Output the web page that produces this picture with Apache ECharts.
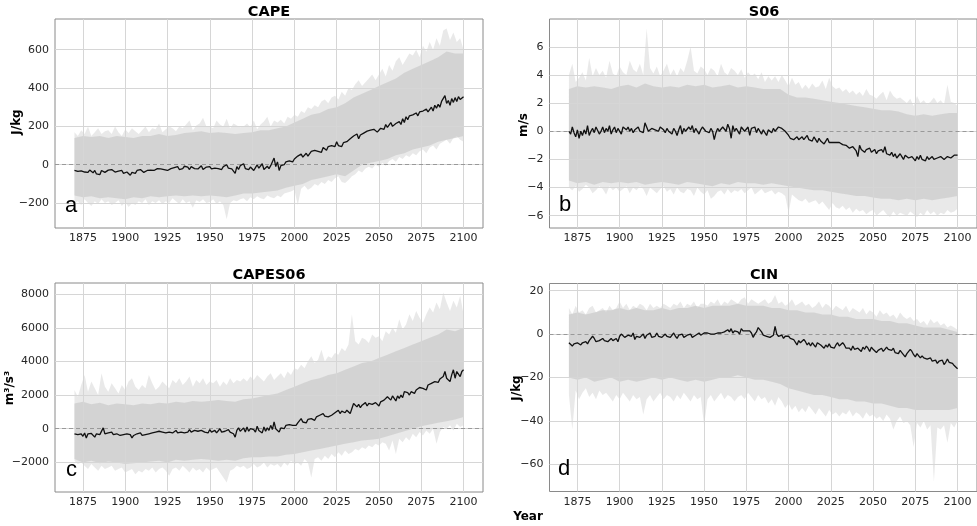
<!DOCTYPE html>
<html>
<head>
<meta charset="utf-8">
<script src="https://cdn.jsdelivr.net/npm/echarts@6/dist/echarts.min.js"></script>
<style>
  html, body { margin: 0; padding: 0; background: #fff; }
  #chart { width: 977px; height: 526px; }
</style>
</head>
<body>
<div id="chart"></div>
<script>
// ---- data ----
// yearly ensemble means, 1870..2100
const capeMean = [
  -30,-25,-35,-28,-32,-30,-38,-33,-40,-28,
  -35,-42,-30,-48,-38,-52,-30,-25,-40,-35,
  -28,-32,-25,-30,-38,-28,-33,-40,-30,-45,
  -35,-38,-42,-55,-40,-35,-45,-30,-38,-25,
  -32,-40,-35,-30,-38,-28,-22,-30,-25,-20,
  -28,-22,-30,-25,-18,-30,-38,-20,-25,-15,
  -22,-10,-25,-15,-20,-8,-18,-12,-25,-10,
  -15,-20,-10,-22,-18,-5,-25,-15,-12,-20,
  -10,-22,-15,-18,-8,-20,-12,-25,-10,-15,
  0,-18,-10,-22,-15,-45,-10,-25,-5,-15,
  5,-20,-10,-25,-12,-5,-30,-15,0,-18,
  -10,5,-25,-15,-8,-20,-5,0,35,-10,
  15,-30,-5,5,0,15,10,20,25,15,
  30,25,45,35,55,40,50,60,45,55,
  70,60,75,85,70,80,65,90,85,75,
  95,85,100,110,95,120,100,110,95,115,
  105,120,110,135,125,150,140,160,135,155,
  150,165,160,175,165,180,170,185,175,170,
  180,190,200,185,210,195,205,220,200,190,
  215,205,225,210,240,220,250,235,255,245,
  260,250,270,255,275,265,280,270,290,275,
  285,300,280,310,295,315,300,330,320,360,
  320,335,310,345,325,350,330,355,340,350,
  355
];
const s06Mean = [
  0,-0.2,0.3,-0.1,-0.4,0.1,-0.5,0,-0.3,0.1,
  -0.2,0.4,-0.3,0,0.2,-0.1,0.3,0.2,-0.2,0,
  0.3,-0.1,0.2,0,0.4,-0.2,0.1,0.3,-0.1,0.2,
  0.1,-0.2,0.3,0.2,0.1,0.3,0,0.2,-0.1,0.1,
  0.2,0.3,0,0.1,-0.1,0.6,0.5,0,0.1,0.2,
  0.3,0.1,0.2,0,0.3,0.2,0.1,-0.1,0.2,0,
  0.1,-0.2,0.2,0,-0.3,0.1,0.4,-0.2,0.2,0,
  -0.1,0.3,0.1,0.4,-0.1,0.2,0,-0.2,0.1,0.3,
  0.4,0,0.1,-0.1,0.2,0,-0.6,-0.1,0.2,0,
  -0.1,0.3,0.2,0,0.5,0.2,-0.5,0.4,0,0.2,
  0.1,-0.2,0.3,0.4,0,-0.1,0.3,-0.3,0.2,0.1,
  0.3,-0.1,0.2,0,-0.2,0.1,0.2,-0.3,0.1,0,
  -0.1,0.2,0,0.1,0.3,0.35,0.2,0.1,0,-0.1,
  -0.3,-0.5,-0.4,-0.6,-0.5,-0.4,-0.6,-0.5,-0.4,-0.6,
  -0.5,-0.3,-0.6,-0.5,-0.7,-0.4,-0.6,-0.8,-0.5,-0.7,
  -0.6,-0.9,-0.7,-0.5,-0.8,-0.7,-0.8,-0.8,-0.8,-0.85,
  -0.8,-0.9,-0.95,-0.9,-1.0,-1.1,-1.2,-1.1,-1.1,-1.2,
  -1.4,-1.8,-1.0,-1.3,-1.2,-1.5,-1.3,-1.4,-1.2,-1.5,
  -1.4,-1.3,-1.6,-1.4,-1.5,-1.3,-1.5,-1.1,-1.6,-1.5,
  -1.7,-1.5,-1.8,-1.6,-1.9,-2.0,-1.6,-1.8,-2.0,-1.7,
  -1.8,-1.9,-2.0,-1.8,-1.9,-2.1,-1.8,-2.0,-1.7,-2.0,
  -1.9,-2.1,-1.8,-2.0,-1.9,-1.8,-2.0,-2.0,-1.9,-2.0,
  -1.8,-1.9,-2.0,-1.9,-1.8,-1.7,-1.9,-1.8,-1.7,-1.75,
  -1.7
];
const capes06Mean = [
  -300,-250,-350,-320,-300,-450,-250,-550,-300,-400,
  -280,-350,-500,-300,-400,-350,-250,50,-300,-350,
  -250,-300,-200,-350,-280,-300,-250,-400,-300,-350,
  -450,-300,-400,-350,-550,-400,-450,-300,-350,-250,
  -400,-300,-350,-250,-300,-400,-250,-350,-200,-300,
  -150,-250,-200,-300,-250,-350,-200,-100,-250,-200,
  -100,-250,-150,-200,-100,-250,-150,-200,-50,-200,
  -150,-100,-200,-150,-250,-100,-150,-200,-100,-250,
  -50,-200,-150,-100,-250,-150,0,-200,-100,-150,
  -100,-50,-200,-150,-300,-500,-100,50,-150,-50,
  50,-200,100,-150,0,-100,-50,-200,150,-100,
  0,-250,100,-150,50,-100,200,-50,400,0,
  100,-200,50,150,0,200,100,250,150,200,
  250,200,350,300,600,400,450,350,550,500,
  600,550,500,700,650,800,700,900,750,850,
  700,600,800,900,950,1000,1100,900,1050,1000,
  950,1100,1000,900,1200,1500,1450,1300,1450,1250,
  1400,1300,1550,1350,1500,1600,1450,1400,1550,1500,
  1350,1600,1500,1700,1800,1900,2000,1700,1950,1800,
  1650,1950,1800,2000,1850,2200,2100,2150,2000,2200,
  2250,2100,2300,2200,2450,2350,2400,2500,2300,2600,
  2550,2700,2600,2800,2900,2750,2950,3000,3100,3400,
  3000,3100,2800,3200,3500,3000,3400,3300,3100,3400,
  3500
];
const cinMean = [
  -4,-4.5,-5.5,-4.5,-5,-4,-4.5,-5,-4,-4.5,
  -3.5,-4.5,-3,-2.5,-1,-2,-3.5,-4,-3,-2.5,
  -2,-3,-2.5,-3.5,-3,-2,-3,-2.5,-2,-3.5,
  -1,0,-0.5,-1.5,-2,-0.5,0,-1,0.5,-2.5,
  -1,-0.5,-1.5,-1,0,-2,-0.5,-1,0.5,-1.5,
  -2,-1,0.5,-1,-0.5,-1.5,-2,0,-1,-0.5,
  -1.5,-1,0.5,-1,-2,-0.5,-1,0,-1.5,-1,
  -0.5,-1,0,-1.5,-2,-0.5,0,0.5,-0.5,0,
  0.5,0,0.5,1,0,0.5,0,-0.5,0.5,1,
  0.5,0,1,1.5,2,1,2.5,0.5,1.5,2,
  1,0,2.5,1.5,1,1.5,1,1.5,0.5,-1.5,
  0,1,3,3.5,1,-0.5,0,-1,-1,-1.5,
  -1,-0.5,3.5,0,-1,-1.5,-0.5,-2,-1,-0.5,
  -1,-2,-1.5,-2.5,-3,-5,-3,-4,-3.5,-2.5,
  -3.5,-5,-4,-5.5,-4,-4.5,-6,-4,-3.5,-5,
  -5.5,-6.5,-5,-6,-4.5,-6,-5.5,-6.5,-5,-4,
  -5.5,-6,-4,-5,-6.5,-6,-6.5,-7.5,-5.5,-7,
  -7.5,-6.5,-7,-8,-6,-7,-5.5,-6.5,-8,-6,
  -7,-6.5,-8.5,-7.5,-8,-6.5,-8,-7,-6,-7,
  -6.5,-7.5,-6.5,-8.5,-8,-9,-7.5,-8.5,-9,-10.5,
  -9,-9.5,-7,-8,-9.5,-10.5,-9,-10,-11,-10,
  -11,-10.5,-11.5,-12,-11,-12.5,-13,-12,-13.5,-12.5,
  -13,-12,-14,-13,-11.5,-13,-12.5,-13.5,-14.5,-15,
  -16
];

// dense core of the ensemble spread, every 5 years 1870..2100
const capeCoreLo = [-160,-170,-165,-175,-170,-175,-180,-170,-175,-165,-170,-165,-160,-165,-160,-165,-160,-165,-170,-160,-150,-150,-145,-140,-135,-120,-110,-100,-80,-70,-60,-50,-60,-30,0,10,20,30,50,60,80,90,100,120,130,140,150];
const capeCoreHi = [140,150,145,150,140,150,145,140,150,150,160,150,155,165,170,175,165,170,165,160,165,170,180,180,190,200,220,240,260,270,290,300,320,350,370,390,410,430,450,480,500,520,540,560,590,580,580];
const s06CoreLo = [-3.5,-3.7,-3.6,-3.8,-3.6,-3.7,-3.6,-3.7,-3.6,-3.8,-3.7,-3.6,-3.7,-3.8,-3.6,-3.7,-3.8,-3.9,-3.7,-3.8,-3.6,-3.7,-3.7,-3.8,-3.7,-3.8,-3.9,-4.0,-4.1,-4.2,-4.2,-4.3,-4.4,-4.5,-4.6,-4.6,-4.7,-4.8,-4.8,-4.9,-4.8,-4.9,-4.8,-4.9,-4.8,-4.7,-4.6];
const s06CoreHi = [3.0,3.2,3.1,3.2,3.1,3.0,3.2,3.3,3.1,3.4,3.2,3.1,3.2,3.1,3.3,3.2,3.3,3.1,3.2,3.3,3.1,3.2,3.1,3.0,3.0,3.0,2.6,2.4,2.4,2.3,2.2,2.1,2.0,1.9,1.8,1.7,1.6,1.5,1.5,1.4,1.2,1.1,1.2,1.1,1.2,1.3,1.3];
const capes06CoreLo = [-1800,-2000,-1900,-2050,-1950,-2000,-2100,-2050,-2000,-1950,-1900,-2000,-1850,-1900,-1850,-1800,-1850,-1900,-1850,-1900,-1750,-1700,-1700,-1650,-1650,-1550,-1500,-1400,-1300,-1200,-1100,-1000,-900,-800,-700,-650,-600,-450,-300,-150,0,150,250,350,450,550,700];
const capes06CoreHi = [1500,1600,1450,1550,1400,1500,1450,1400,1500,1450,1550,1500,1600,1550,1650,1600,1650,1700,1650,1600,1750,1800,1900,2000,2100,2300,2500,2700,2900,3000,3200,3300,3500,3700,3900,4000,4200,4400,4600,4800,5000,5200,5400,5600,5900,5800,6000];
const cinCoreLo = [-20,-21,-20,-22,-21,-20,-22,-21,-22,-21,-20,-21,-20,-21,-22,-21,-22,-21,-20,-20,-19,-20,-21,-21,-22,-23,-25,-26,-27,-28,-28,-29,-30,-30,-31,-31,-32,-32,-33,-34,-34,-35,-35,-35,-35,-35,-34];
const cinCoreHi = [9,10,9,10,11,11,12,11,12,11,11,12,11,12,12,13,12,13,13,13,14,13,13,13,12,12,11,11,10,10,9,9,8,8,7,7,7,6,6,5,5,4,3,3,3,2,1];

// faint outer envelope of the members, every 2 years 1870..2100
const capeOuterHi = [
  170,150,180,160,200,150,170,190,160,175, 180,160,200,170,150,185,165,190,175,160,
  180,200,170,190,185,215,170,185,200,190, 175,200,190,210,230,180,205,215,245,200,
  200,190,230,210,200,240,190,215,205,195, 200,215,195,230,185,210,225,250,200,230,
  220,235,215,250,240,260,250,280,270,300, 290,310,300,330,340,320,350,360,340,380,
  360,400,390,420,440,410,430,450,470,440, 470,500,460,520,490,540,560,520,550,580,
  570,600,560,620,590,640,600,660,620,700, 710,650,690,640,660,600
];
const capeOuterLo = [
  -200,-190,-210,-180,-200,-215,-190,-205,-180,-200, -190,-210,-200,-185,-215,-195,-220,-200,-210,-190,
  -200,-180,-210,-190,-200,-185,-205,-190,-200,-175, -190,-205,-180,-200,-190,-225,-185,-195,-180,-200,
  -195,-180,-205,-190,-210,-285,-200,-185,-190,-180, -175,-190,-170,-180,-165,-175,-180,-160,-170,-175,
  -160,-170,-150,-145,-140,-130,-210,-125,-110,-130, -120,-100,-110,-90,-100,-80,-90,-70,-60,-90,
  -95,-80,-60,-50,-30,-40,-20,-10,-20,0, -10,10,-5,20,30,15,40,30,50,40,
  60,50,70,80,60,90,100,80,110,120, 130,110,140,150,130,120
];
const s06OuterHi = [
  4.0,4.8,3.5,3.8,4.2,3.6,5.2,3.9,4.5,4.0, 4.3,3.8,5.0,4.1,3.9,4.6,4.2,4.0,5.0,4.4,
  4.2,4.8,4.0,7.3,4.5,4.1,4.6,3.9,4.3,4.8, 4.0,4.4,3.9,4.5,4.2,5.0,6.0,4.3,4.1,4.6,
  4.4,4.0,4.5,4.3,3.9,4.8,4.2,4.0,4.5,4.3, 4.0,4.4,3.8,4.2,3.9,4.1,3.7,4.2,3.5,3.9,
  3.6,3.9,3.5,4.0,3.6,3.2,3.8,3.3,3.5,3.0, 3.3,3.0,3.4,3.1,3.2,3.6,3.0,3.8,3.2,3.0,
  3.1,2.8,3.0,2.7,2.9,2.6,2.8,2.5,3.0,2.6, 2.5,2.3,2.6,2.8,2.2,2.9,2.5,2.3,2.4,2.2,
  2.0,2.3,1.8,2.5,2.0,2.2,1.9,2.1,2.4,2.0, 2.2,1.9,3.3,2.1,2.0,1.8
];
const s06OuterLo = [
  -4.0,-4.2,-3.9,-4.3,-4.1,-3.8,-4.0,-4.4,-4.2,-3.9, -4.1,-4.5,-3.9,-4.2,-4.0,-4.3,-4.1,-3.9,-4.4,-4.0,
  -4.2,-3.9,-4.1,-4.6,-4.0,-4.2,-4.4,-4.1,-3.9,-4.3, -4.1,-4.5,-4.0,-4.3,-4.4,-4.1,-4.2,-4.6,-4.0,-4.3,
  -4.5,-4.2,-4.8,-4.6,-4.3,-4.2,-4.5,-4.1,-4.4,-4.2, -4.3,-4.1,-4.4,-4.2,-4.0,-4.5,-4.3,-4.1,-4.4,-4.3,
  -4.2,-4.5,-4.3,-4.4,-4.6,-5.8,-4.5,-4.7,-4.9,-5.0, -4.8,-5.1,-5.0,-4.9,-5.2,-5.0,-5.3,-5.6,-5.1,-5.4,
  -5.5,-5.3,-5.6,-5.4,-5.8,-5.5,-5.7,-5.6,-5.9,-5.7, -5.6,-6.0,-5.8,-5.6,-5.9,-6.1,-5.7,-6.0,-5.8,-5.9,
  -6.0,-5.7,-5.9,-6.1,-5.8,-6.0,-5.6,-5.9,-5.7,-6.0, -5.8,-5.9,-5.6,-5.8,-5.7,-5.5
];
const capes06OuterHi = [
  2300,1900,2600,3200,2200,2800,2400,2000,3300,2500, 2200,2700,2400,2100,2600,2300,2800,3000,2500,2300,
  2600,2400,3200,2700,2300,2500,2800,2600,2400,2900, 2700,3000,2600,2800,3100,2500,2900,2700,3000,2600,
  2800,2700,2900,2500,2800,2600,3000,2700,2900,2800, 3000,2800,3100,2900,3200,3000,2800,3100,3300,2900,
  3100,3300,3000,3400,3200,3600,3500,3800,3600,4000, 4300,3900,4100,4700,4000,4300,4200,4500,4400,4800,
  4600,5000,6800,5200,5000,5400,5300,5100,5600,5400, 5500,5200,5800,5600,6000,5700,6500,5900,6200,6800,
  6400,7000,6600,6300,6800,7200,6900,7500,7100,8100, 7500,7000,7600,7200,7900,6800
];
const capes06OuterLo = [
  -1900,-2100,-2000,-2200,-2400,-2100,-2300,-2500,-2200,-2400, -2300,-2200,-2500,-2400,-2300,-2600,-2500,-2400,-2700,-2500,
  -2600,-2400,-2500,-2300,-2600,-2400,-2300,-2500,-2800,-2400, -2300,-2500,-2200,-2400,-2600,-2300,-2500,-2400,-2600,-2300,
  -2500,-2400,-2300,-2600,-2900,-3200,-2500,-2400,-2200,-2300, -2200,-2400,-2300,-2100,-2300,-2200,-2000,-2300,-2100,-2200,
  -2100,-2300,-2000,-2200,-1900,-2100,-2000,-2200,-1800,-2000, -2900,-1800,-1700,-1900,-1600,-1800,-1500,-1700,-1400,-1600,
  -1300,-1500,-1400,-1200,-1300,-1100,-1200,-1000,-1100,-900, -1000,-800,-900,-1300,-700,-1500,-600,-800,-500,-700,
  -300,-500,-200,-400,-100,-300,0,-900,-200,100, 0,200,-100,300,100,200
];
const cinOuterHi = [
  12,9,13,10,11,9,12,13,10,11, 12,10,13,11,12,15,12,14,11,13,
  12,14,13,11,14,12,13,12,14,13, 12,14,13,15,12,14,13,15,12,14,
  14,13,15,14,16,13,15,14,16,15, 14,16,17,14,16,15,14,15,16,14,
  15,18,14,15,13,14,16,13,14,15, 13,14,12,13,15,12,14,13,11,13,
  12,11,13,10,12,11,10,12,9,11, 10,8,11,9,10,8,9,7,10,8,
  7,8,6,7,5,6,4,7,5,6, 4,5,3,4,3,2
];
const cinOuterLo = [
  -28,-44,-26,-30,-27,-25,-29,-27,-30,-26, -28,-27,-29,-31,-28,-30,-27,-29,-31,-28,
  -30,-29,-37,-30,-28,-31,-29,-27,-30,-28, -29,-31,-28,-30,-27,-29,-31,-28,-30,-29,
  -42,-30,-28,-31,-29,-27,-30,-28,-29,-31, -29,-28,-30,-27,-29,-31,-28,-30,-29,-32,
  -30,-33,-29,-31,-34,-32,-35,-33,-36,-34, -36,-33,-35,-37,-34,-36,-38,-35,-37,-36,
  -38,-36,-37,-35,-38,-36,-37,-39,-36,-38, -37,-39,-38,-40,-37,-39,-44,-40,-38,-41,
  -40,-42,-52,-41,-43,-40,-44,-42,-68,-43, -44,-42,-50,-41,-43,-40
];

const xTicks = [1875, 1900, 1925, 1950, 1975, 2000, 2025, 2050, 2075, 2100];
const capeTicks = [-200, 0, 200, 400, 600];
const s06Ticks = [-6, -4, -2, 0, 2, 4, 6];
const capes06Ticks = [-2000, 0, 2000, 4000, 6000, 8000];
const cinTicks = [-60, -40, -20, 0, 20];

// ---- helpers ----
function pairs(start, step, arr) {
  return arr.map(function (v, i) { return [start + i * step, v]; });
}
// spread band drawn as one polygon, lower edge then upper edge back
function band(g, lo, hi, step, color) {
  const data = lo.map(function (v, i) { return [1870 + i * step, v, hi[i]]; });
  return {
    type: 'custom', xAxisIndex: g, yAxisIndex: g, silent: true, z: 1,
    data: data,
    encode: { x: 0, y: [1, 2] },
    renderItem: function (params, api) {
      if (params.dataIndex !== 0) return;
      const down = data.map(function (d) { return api.coord([d[0], d[1]]); });
      const up = data.map(function (d) { return api.coord([d[0], d[2]]); }).reverse();
      return {
        type: 'polygon',
        shape: { points: down.concat(up) },
        style: { fill: color, stroke: null }
      };
    }
  };
}
function meanLine(g, arr) {
  return {
    type: 'line', xAxisIndex: g, yAxisIndex: g, symbol: 'none', silent: true, z: 5,
    data: pairs(1870, 1, arr), lineStyle: { color: '#111', width: 1.3 },
    markLine: {
      silent: true, symbol: 'none', label: { show: false },
      lineStyle: { color: '#999', type: [4, 3], width: 1 },
      data: [{ yAxis: 0 }]
    }
  };
}
function fmt(v) {
  return v < 0 ? '\u2212' + Math.abs(v) : String(v);
}

const font = '"DejaVu Sans", sans-serif';
const panels = [
  { left: 55, top: 19, width: 428, height: 209, ymin: -330, ymax: 760, ticks: capeTicks },
  { left: 549.5, top: 19, width: 429.5, height: 209, ymin: -6.875, ymax: 7.975, ticks: s06Ticks },
  { left: 55, top: 283, width: 428, height: 209, ymin: -3760, ymax: 8660, ticks: capes06Ticks },
  { left: 549.5, top: 283.5, width: 429.5, height: 208, ymin: -72.5, ymax: 23.3, ticks: cinTicks }
];

const grid = panels.map(function (p) {
  return { left: p.left, top: p.top, width: p.width, height: p.height, show: true,
    borderColor: '#8a8a8a', borderWidth: 1, backgroundColor: '#fff' };
});
// axes sit above the grey spread so the grid shows through it, as in the figure
const xAxis = panels.map(function (p, i) {
  return {
    type: 'value', gridIndex: i, min: 1858.5, max: 2111.5, z: 3,
    axisLine: { show: false },
    axisTick: { show: false, customValues: xTicks },
    axisLabel: { customValues: xTicks, margin: 5, color: '#262626', fontSize: 11, fontFamily: font,
      formatter: function (v) { return String(v); } },
    splitLine: { show: true, lineStyle: { color: '#d6d6d6', width: 1 } }
  };
});
const yAxis = panels.map(function (p, i) {
  return {
    type: 'value', gridIndex: i, min: p.ymin, max: p.ymax, z: 3,
    axisLine: { show: false },
    axisTick: { show: false, customValues: p.ticks },
    axisLabel: { customValues: p.ticks, margin: 6, color: '#262626', fontSize: 11, fontFamily: font, formatter: fmt },
    splitLine: { show: true, lineStyle: { color: '#d6d6d6', width: 1 } }
  };
});

const outerColor = 'rgba(200,200,200,0.4)';
const coreColor = 'rgba(200,200,200,0.65)';
let series = [];
[[capeOuterLo, capeOuterHi, capeCoreLo, capeCoreHi, capeMean],
 [s06OuterLo, s06OuterHi, s06CoreLo, s06CoreHi, s06Mean],
 [capes06OuterLo, capes06OuterHi, capes06CoreLo, capes06CoreHi, capes06Mean],
 [cinOuterLo, cinOuterHi, cinCoreLo, cinCoreHi, cinMean]].forEach(function (d, g) {
  series.push(band(g, d[0], d[1], 2, outerColor));
  series.push(band(g, d[2], d[3], 5, coreColor));
  series.push(meanLine(g, d[4]));
});

function label(text, x, y, size, weight, align, fam, rot) {
  return { type: 'text', x: x, y: y, rotation: rot || 0, silent: true, z: 100,
    style: { text: text, fill: '#000', font: weight + ' ' + size + 'px ' + (fam || font),
      textAlign: align, textVerticalAlign: 'middle' } };
}
const sans = '"Liberation Sans", Arial, sans-serif';
const up = Math.PI / 2;

const chart = echarts.init(document.getElementById('chart'));
chart.setOption({
  animation: false,
  backgroundColor: '#fff',
  grid: grid,
  xAxis: xAxis,
  yAxis: yAxis,
  series: series,
  graphic: [
    label('CAPE', 269, 12, 14.5, 'bold', 'center'),
    label('S06', 764, 12, 14.5, 'bold', 'center'),
    label('CAPES06', 269, 275, 14.5, 'bold', 'center'),
    label('CIN', 764, 275, 14.5, 'bold', 'center'),
    label('Year', 528, 517, 12, 'bold', 'center'),
    label('J/kg', 17, 122, 12, 'bold', 'center', font, up),
    label('m/s', 524, 125, 12, 'bold', 'center', font, up),
    label('m\u00b3/s\u00b3', 10, 388, 12, 'bold', 'center', font, up),
    label('J/kg', 517, 388, 12, 'bold', 'center', font, up),
    label('a', 65, 206, 22, 'normal', 'left', sans),
    label('b', 559, 205, 22, 'normal', 'left', sans),
    label('c', 66, 470, 22, 'normal', 'left', sans),
    label('d', 558, 469, 22, 'normal', 'left', sans)
  ]
});
</script>
</body>
</html>
